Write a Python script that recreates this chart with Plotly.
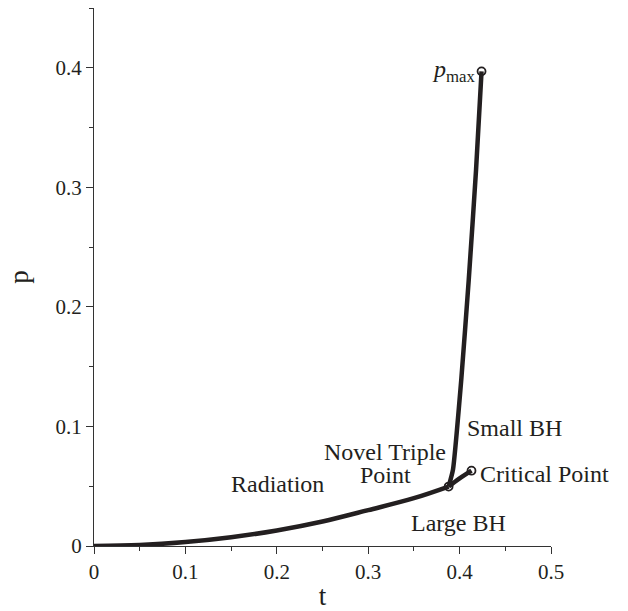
import plotly.graph_objects as go

# Radiation / Large BH coexistence line (t, p)
rad_t = [0.0, 0.05, 0.10, 0.15, 0.20, 0.25, 0.30, 0.35, 0.388]
rad_p = [0.0, 0.0008, 0.0033, 0.0073, 0.0130, 0.0205, 0.0300, 0.0400, 0.0497]

# Large BH / Small BH coexistence line up to the critical point
ls_t = [0.388, 0.400, 0.413]
ls_p = [0.0497, 0.0565, 0.063]

# Radiation / Small BH coexistence line up to p_max
sr_t = [0.388, 0.3927, 0.4018, 0.410, 0.418, 0.424]
sr_p = [0.0497, 0.0636, 0.139, 0.2226, 0.3146, 0.397]

# special points
pt_t = [0.388, 0.413, 0.424]
pt_p = [0.0497, 0.063, 0.397]

LINE = "#231f20"
FONT = "'Liberation Serif', 'Times New Roman', serif"

fig = go.Figure()
for xs, ys, sm in [(rad_t, rad_p, 1.0), (ls_t, ls_p, 1.0), (sr_t, sr_p, 0.5)]:
    fig.add_trace(go.Scatter(x=xs, y=ys, mode="lines",
                             line=dict(color=LINE, width=4.5, shape="spline", smoothing=sm),
                             showlegend=False, hoverinfo="skip"))
fig.add_trace(go.Scatter(x=pt_t, y=pt_p, mode="markers",
                         marker=dict(symbol="circle-open", size=8, color=LINE,
                                     line=dict(width=1.8, color=LINE)),
                         showlegend=False))

ann = [
    dict(x=0.201, y=0.052, text="Radiation", xanchor="center", yanchor="middle"),
    dict(x=0.4055, y=0.0985, text="Small BH", xanchor="left", yanchor="middle"),
    dict(x=0.318, y=0.0790, text="Novel Triple", xanchor="center", yanchor="middle"),
    dict(x=0.319, y=0.0590, text="Point", xanchor="center", yanchor="middle"),
    dict(x=0.4205, y=0.0605, text="Critical Point", xanchor="left", yanchor="middle"),
    dict(x=0.399, y=0.019, text="Large BH", xanchor="center", yanchor="middle"),
    dict(x=0.420, y=0.397, text="<i>p</i><sub>max</sub>", xanchor="right", yanchor="middle"),
]
for a in ann:
    fig.add_annotation(**a, xref="x", yref="y", showarrow=False,
                       font=dict(family=FONT, size=24, color="#231f20"))

axis_common = dict(showline=True, linecolor="#333333", linewidth=1.3,
                   ticks="outside", ticklen=7, tickwidth=1.3, tickcolor="#333333",
                   showgrid=False, zeroline=False, mirror=False, automargin=False,
                   tickfont=dict(family=FONT, size=21, color="#231f20"),
                   minor=dict(ticks="outside", ticklen=4, tickwidth=1.2,
                              tickcolor="#333333", dtick=0.05, showgrid=False))

fig.update_xaxes(range=[0, 0.5], tickvals=[0, 0.1, 0.2, 0.3, 0.4, 0.5],
                 ticktext=["0", "0.1", "0.2", "0.3", "0.4", "0.5"],
                 title=dict(text="t", font=dict(family=FONT, size=27, color="#231f20"), standoff=6),
                 **axis_common)
fig.update_yaxes(range=[0, 0.45], tickvals=[0, 0.1, 0.2, 0.3, 0.4],
                 ticktext=["0", "0.1", "0.2", "0.3", "0.4"],
                 title=dict(text="p", font=dict(family=FONT, size=27, color="#231f20"), standoff=18),
                 **axis_common)

fig.update_layout(width=628, height=611, margin=dict(l=94, r=77, t=8, b=65),
                  plot_bgcolor="white", paper_bgcolor="white")

fig.write_html("out.html")
